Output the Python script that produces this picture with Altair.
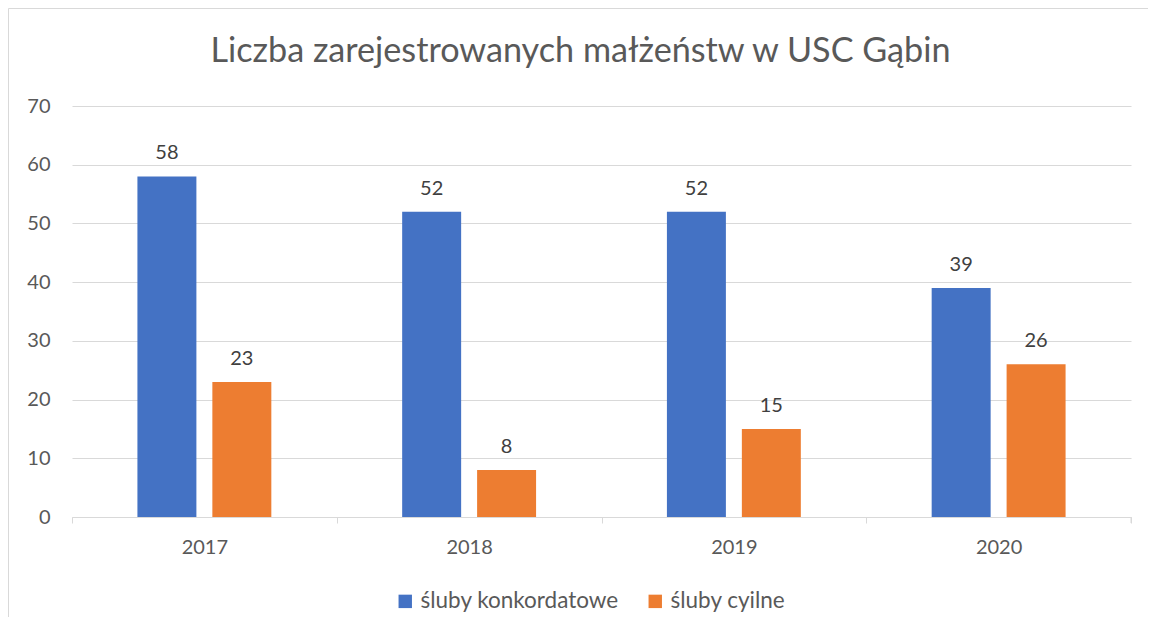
import altair as alt
import pandas as pd

years = ["2017", "2018", "2019", "2020"]
series = ["śluby konkordatowe", "śluby cyilne"]
konkordatowe = [58, 52, 52, 39]
cywilne = [23, 8, 15, 26]
colors = ["#4472C4", "#ED7D31"]

rows = []
for i, y in enumerate(years):
    rows.append({"rok": y, "typ": series[0], "liczba": konkordatowe[i]})
    rows.append({"rok": y, "typ": series[1], "liczba": cywilne[i]})
df = pd.DataFrame(rows)

FONT = "Lato"
W, H = 1059, 411

x = alt.X("rok:N", sort=years, title=None,
          scale=alt.Scale(paddingInner=0, paddingOuter=0),
          axis=alt.Axis(tickBand="extent", domainColor="#d9d9d9", tickColor="#d9d9d9",
                        tickSize=6, labelAngle=0, labelPadding=14, labelFontSize=20,
                        labelColor="#595959", labelFont=FONT, grid=False))
xoff = alt.XOffset("typ:N", sort=series,
                   scale=alt.Scale(paddingInner=0.213, paddingOuter=0.873))
y = alt.Y("liczba:Q", title=None,
          scale=alt.Scale(domain=[0, 70], nice=False),
          axis=alt.Axis(values=list(range(0, 71, 10)), ticks=False, domain=False,
                        gridColor="#d9d9d9", gridWidth=1, labelPadding=22,
                        labelFontSize=20, labelColor="#595959", labelFont=FONT))

base = alt.Chart(df)

bars = base.mark_bar().encode(
    x=x, xOffset=xoff, y=y,
    color=alt.Color("typ:N", sort=series,
                    scale=alt.Scale(domain=series, range=colors),
                    legend=alt.Legend(title=None, orient="none", direction="horizontal",
                                      legendX=322, legendY=484, symbolType="square",
                                      symbolSize=180, symbolStrokeWidth=0,
                                      labelFontSize=22.5, labelColor="#595959",
                                      labelFont=FONT, columnPadding=25, labelOffset=4,
                                      labelLimit=0)),
)

labels = base.mark_text(baseline="alphabetic", dy=-17, fontSize=20,
                        color="#404040", font=FONT).encode(
    x=alt.X("rok:N", sort=years), xOffset=alt.XOffset("typ:N", sort=series),
    y="liczba:Q", text="liczba:Q",
)

end_tick = alt.Chart(pd.DataFrame({"a": [0]})).mark_rule(color="#d9d9d9").encode(
    x=alt.value(W), y=alt.value(H), y2=alt.value(H + 6))
left_border = alt.Chart(pd.DataFrame({"a": [0]})).mark_rule(color="#d9d9d9").encode(
    x=alt.value(-63.5), y=alt.value(-97.5), y2=alt.value(530))
top_border = alt.Chart(pd.DataFrame({"a": [0]})).mark_rule(color="#d9d9d9").encode(
    x=alt.value(-63.5), x2=alt.value(W + 30), y=alt.value(-97.5))

chart = alt.layer(bars, labels, end_tick, left_border, top_border).properties(
    width=W, height=H,
    title=alt.TitleParams("Liczba zarejestrowanych małżeństw w USC Gąbin",
                          anchor="middle", frame="group", fontSize=34.2,
                          font=FONT, fontWeight="normal", color="#595959",
                          baseline="alphabetic", offset=-88, dx=-21),
    autosize=alt.AutoSizeParams(type="none"),
    padding={"left": 64, "top": 98, "right": 17, "bottom": 100},
).configure_view(stroke=None).configure_scale(bandPaddingInner=0)

chart.save("out.html", embed_options={"renderer": "svg", "actions": False})
